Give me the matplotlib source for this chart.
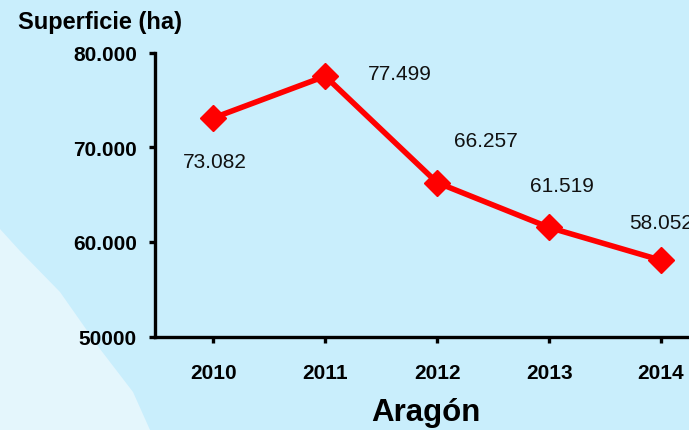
import matplotlib
matplotlib.use("Agg")
import matplotlib.pyplot as plt
from matplotlib.patches import Polygon

years = [2010, 2011, 2012, 2013, 2014]
values = [73082, 77499, 66257, 61519, 58052]
value_labels = ["73.082", "77.499", "66.257", "61.519", "58.052"]
ytick_values = [50000, 60000, 70000, 80000]
ytick_labels = ["50000", "60.000", "70.000", "80.000"]
label_offsets = [(1, -31), (54, 2), (35, 30), (9, 30), (0, 27)]

W, H = 689, 431
fig = plt.figure(figsize=(W / 100, H / 100), dpi=100)
bg = "#C9EEFC"
fig.patch.set_facecolor(bg)

# lighter curved region bottom-left
curve = [(0, 230), (20, 252), (60, 293), (100, 350), (133, 393), (150, 431), (0, 431)]
fig.patches.append(Polygon([(x / W, 1 - y / H) for x, y in curve], closed=True,
                           transform=fig.transFigure, facecolor="#E4F6FC",
                           edgecolor="none", zorder=-5))

ax = fig.add_axes([155 / W, (H - 337.5) / H, (W - 155) / W, (337.5 - 53.5) / H])
ax.set_zorder(2)
ax.patch.set_alpha(0)
ax.plot(years, values, color="#FF0000", lw=4, marker="D", markersize=13,
        clip_on=False, zorder=3)
for x, v, lab, off in zip(years, values, value_labels, label_offsets):
    ax.annotate(lab, (x, v), xytext=off, textcoords="offset points",
                ha="center", va="center", fontsize=15, family="Liberation Sans",
                color="#111111", annotation_clip=False)

ax.set_xlim(2009.48, 2014.25)
ax.set_ylim(50000, 80000)
ax.set_xticks(years)
ax.set_xticklabels([str(y) for y in years], fontsize=15, fontweight="bold",
                   family="Liberation Sans")
ax.set_yticks(ytick_values)
ax.set_yticklabels(ytick_labels, fontsize=15, fontweight="bold",
                   family="Liberation Sans")
for s in ["top", "right"]:
    ax.spines[s].set_visible(False)
for s in ["left", "bottom"]:
    ax.spines[s].set_linewidth(2.4)
    ax.spines[s].set_color("black")
ax.tick_params(axis="both", direction="out", length=4, width=2.4, color="black")
ax.tick_params(axis="x", pad=15)
ax.tick_params(axis="y", pad=9)

fig.text(100 / W, 1 - 22 / H, "Superficie (ha)", ha="center", va="center",
         fontsize=17, fontweight="bold", family="Liberation Sans")
fig.text(426 / W, 1 - 413 / H, "Aragón", ha="center", va="center",
         fontsize=22.5, fontweight="bold", family="Liberation Sans")

fig.savefig("out.png", dpi=100, facecolor=bg)
